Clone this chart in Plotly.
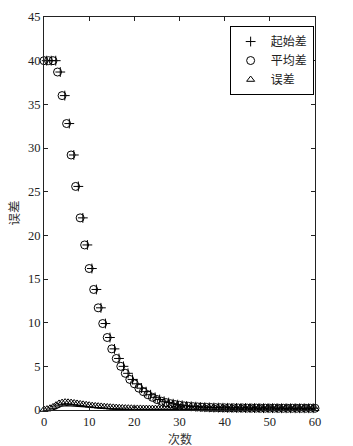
import numpy as np
import plotly.graph_objects as go

# 平均差 (circles) at integer iteration steps
avg_x = list(range(0, 61))
avg_y = [40.0, 40.0, 40.0, 38.7, 36.0, 32.8, 29.2, 25.6, 22.0, 18.9,
         16.2, 13.8, 11.7, 9.9, 8.3, 7.0, 5.9, 5.0, 4.2, 3.5,
         3.0, 2.5, 2.1, 1.75, 1.45, 1.2, 1.0, 0.85, 0.72, 0.62,
         0.54, 0.47, 0.42, 0.38, 0.35, 0.32, 0.3, 0.28, 0.27, 0.26,
         0.25, 0.24, 0.24, 0.23, 0.23, 0.22, 0.22, 0.22, 0.21, 0.21,
         0.21, 0.21, 0.2, 0.2, 0.2, 0.2, 0.2, 0.2, 0.2, 0.2, 0.2]

# 起始差 (pluses), drawn slightly to the right of the circles
start_x = [0.6, 1.6, 2.6, 3.6, 4.6, 5.6, 6.6, 7.6, 8.6, 9.6,
           10.6, 11.6, 12.6, 13.6, 14.6, 15.6, 16.6, 17.6, 18.6, 19.6,
           20.6, 21.6, 22.6, 23.6, 24.6, 25.6, 26.6, 27.6, 28.6, 29.6,
           30.6, 31.6, 32.6, 33.6, 34.6, 35.6, 36.6, 37.6, 38.6, 39.6,
           40.6, 41.6, 42.6, 43.6, 44.6, 45.6, 46.6, 47.6, 48.6, 49.6,
           50.6, 51.6, 52.6, 53.6, 54.6, 55.6, 56.6, 57.6, 58.6, 59.6]
start_y = [40.0, 40.0, 40.0, 38.7, 36.0, 32.8, 29.2, 25.6, 22.0, 18.9,
           16.2, 13.8, 11.7, 9.9, 8.3, 7.0, 5.9, 5.0, 4.2, 3.5,
           3.0, 2.5, 2.1, 1.75, 1.45, 1.2, 1.0, 0.85, 0.72, 0.62,
           0.54, 0.47, 0.42, 0.38, 0.35, 0.32, 0.3, 0.28, 0.27, 0.26,
           0.25, 0.24, 0.24, 0.23, 0.23, 0.22, 0.22, 0.22, 0.21, 0.21,
           0.21, 0.21, 0.2, 0.2, 0.2, 0.2, 0.2, 0.2, 0.2, 0.2]

# 误差 (triangles), denser sampling
err_y = [0.05, 0.1, 0.2, 0.35, 0.55, 0.75, 0.85, 0.9, 0.88, 0.85,
         0.8, 0.75, 0.7, 0.65, 0.6, 0.55, 0.5, 0.47, 0.44, 0.41,
         0.38, 0.35, 0.32, 0.3, 0.28, 0.26, 0.24, 0.22, 0.21, 0.2,
         0.19, 0.18, 0.18, 0.17, 0.17, 0.16, 0.16, 0.16, 0.15, 0.15,
         0.15, 0.15, 0.15, 0.15, 0.15, 0.15, 0.15, 0.15, 0.15, 0.15,
         0.15, 0.15, 0.15, 0.15, 0.15, 0.15, 0.15, 0.15, 0.15, 0.15,
         0.15, 0.15, 0.15, 0.15, 0.15, 0.15, 0.15, 0.15, 0.15, 0.15,
         0.15, 0.15, 0.15, 0.15, 0.15, 0.15, 0.15, 0.15, 0.15, 0.15,
         0.15, 0.15, 0.15, 0.15, 0.15, 0.15, 0.15, 0.15, 0.15, 0.15, 0.15]
err_x = list(np.linspace(0, 60, len(err_y)))

# thin error curve under the triangles
curve_x = [2, 3, 4, 5, 6, 7, 8, 10, 12, 15, 20, 25, 30, 40, 60]
curve_y = [0.0, 0.25, 0.45, 0.5, 0.47, 0.42, 0.37, 0.29, 0.22, 0.15, 0.08, 0.05, 0.03, 0.02, 0.02]

x_ticks = [0, 10, 20, 30, 40, 50, 60]
y_ticks = [0, 5, 10, 15, 20, 25, 30, 35, 40, 45]

fig = go.Figure()
fig.add_trace(go.Scatter(x=curve_x, y=curve_y, mode="lines", showlegend=False,
                         line=dict(color="black", width=1.2), cliponaxis=False,
                         hoverinfo="skip"))
fig.add_trace(go.Scatter(x=start_x, y=start_y, mode="markers", name="起始差",
                         marker=dict(symbol="cross-thin-open", size=7, color="black",
                                     line=dict(color="black", width=1)),
                         cliponaxis=False))
fig.add_trace(go.Scatter(x=avg_x, y=avg_y, mode="markers", name="平均差",
                         marker=dict(symbol="circle-open", size=8, color="black",
                                     line=dict(color="black", width=1)),
                         cliponaxis=False))
fig.add_trace(go.Scatter(x=err_x, y=err_y, mode="markers", name="误差",
                         marker=dict(symbol="triangle-up-open", size=7, color="black",
                                     line=dict(color="black", width=1)),
                         cliponaxis=False))

axis_common = dict(showgrid=False, zeroline=False, showline=True, mirror="ticks",
                   linecolor="#222", linewidth=1, ticks="inside", ticklen=4,
                   tickcolor="#222", automargin=False,
                   tickfont=dict(family="Liberation Serif", size=12.5, color="#222"))

fig.update_layout(
    width=353, height=446,
    margin=dict(l=44, r=38, t=17, b=36),
    paper_bgcolor="white", plot_bgcolor="white",
    xaxis=dict(range=[0, 60], tickvals=x_ticks, **axis_common),
    yaxis=dict(range=[0, 45], tickvals=y_ticks, **axis_common),
    legend=dict(x=0.685, y=0.977, xanchor="left", yanchor="top",
                bgcolor="white", bordercolor="black", borderwidth=1,
                font=dict(family="Noto Sans CJK SC", size=12, color="#222"),
                itemwidth=30, tracegroupgap=0),
    annotations=[
        dict(text="次数", xref="paper", yref="paper", x=0.5, y=0,
             yshift=-28, xanchor="center", yanchor="middle", showarrow=False,
             font=dict(family="Noto Sans CJK SC", size=12, color="#333")),
        dict(text="误差", xref="paper", yref="paper", x=0, y=0.5,
             xshift=-31, xanchor="center", yanchor="middle", showarrow=False,
             textangle=-90,
             font=dict(family="Noto Sans CJK SC", size=12.5, color="#333")),
    ],
)

fig.write_html("out.html", config={"displayModeBar": False},
               post_script="document.body.style.margin='0';document.body.style.padding='0';")
